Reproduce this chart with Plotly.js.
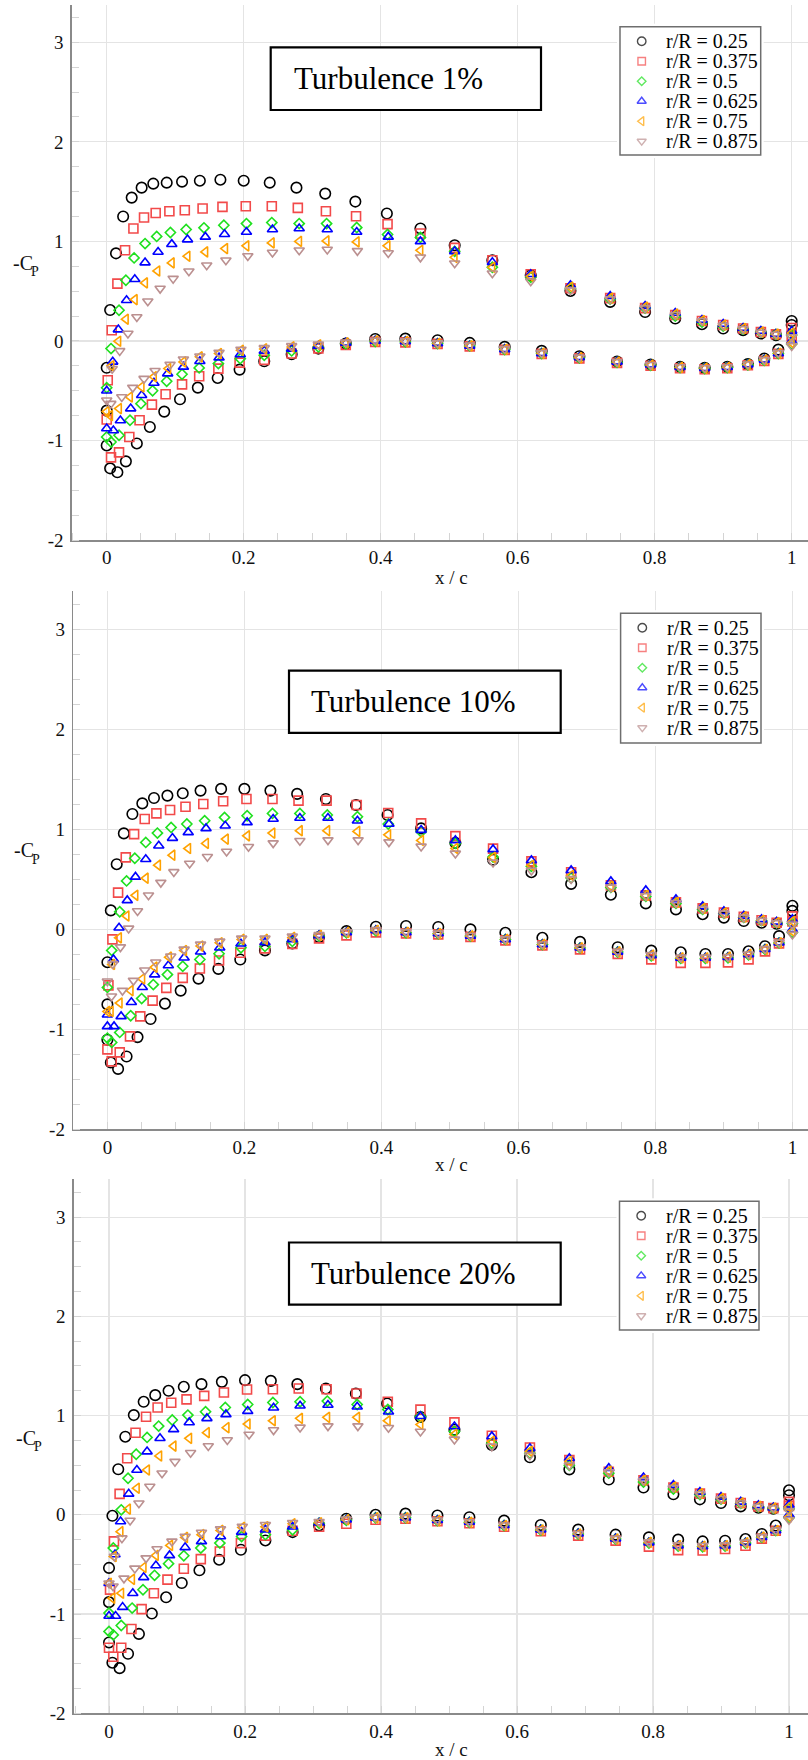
<!DOCTYPE html>
<html><head><meta charset="utf-8">
<script src="https://cdn.plot.ly/plotly-3.0.1.min.js"></script>
<style>html,body{margin:0;padding:0;background:#fff;}#chart{width:808px;height:1760px;}</style>
</head><body><div id="chart"></div>
<script>
// ---------------- DATA ----------------
const rLabels = ['r/R = 0.25','r/R = 0.375','r/R = 0.5','r/R = 0.625','r/R = 0.75','r/R = 0.875'];
const panelTitles = ['Turbulence 1%','Turbulence 10%','Turbulence 20%'];
const xTickVals = [0, 0.2, 0.4, 0.6, 0.8, 1];
const xTickText = ['0', '0.2', '0.4', '0.6', '0.8', '1'];
const yTickVals = [-2, -1, 0, 1, 2, 3];
const yTickText = ['-2', '-1', '0', '1', '2', '3'];

// shared aft tap positions (x/c)
const xUpAft = [0.458, 0.508, 0.563, 0.619, 0.677, 0.735, 0.786, 0.830, 0.869, 0.900, 0.929, 0.955, 0.977, 1.0];
const xLoAft = [0.23, 0.27, 0.309, 0.349, 0.392, 0.436, 0.483, 0.530, 0.581, 0.635, 0.690, 0.745, 0.794, 0.837, 0.873, 0.906, 0.936, 0.960, 0.9805, 1.0];

// per-station forward tap positions (x/c)
const xUp025  = [0.005, 0.0136, 0.024, 0.0365, 0.051, 0.068, 0.0876, 0.110, 0.136, 0.166, 0.200, 0.238, 0.277, 0.319, 0.363, 0.409];
const xLo025  = [0.0, 0.0, 0.0, 0.005, 0.0156, 0.028, 0.044, 0.063, 0.084, 0.107, 0.133, 0.162, 0.194];
const xUp0375 = [0.0073, 0.0156, 0.0268, 0.039, 0.0545, 0.0715, 0.0915, 0.114, 0.140, 0.169, 0.203, 0.241, 0.279, 0.320, 0.364, 0.41];
const xLo0375 = [0.0015, 0.0, 0.0063, 0.018, 0.033, 0.048, 0.066, 0.086, 0.11, 0.135, 0.163, 0.194];
const xUp05   = [0.0063, 0.018, 0.028, 0.040, 0.056, 0.073, 0.093, 0.116, 0.142, 0.171, 0.204, 0.241, 0.281, 0.321, 0.365, 0.41];
const xLo05   = [0.0, 0.0, 0.0063, 0.018, 0.034, 0.05, 0.067, 0.0876, 0.110, 0.135, 0.163, 0.195];
const xUp0625 = [0.0088, 0.017, 0.029, 0.041, 0.056, 0.075, 0.095, 0.118, 0.144, 0.172, 0.204, 0.242, 0.281, 0.322, 0.365, 0.411];
const xLo0625 = [0.0, 0.0, 0.0097, 0.020, 0.035, 0.051, 0.069, 0.089, 0.112, 0.136, 0.164, 0.195];
const xUp075  = [0.007, 0.017, 0.028, 0.041, 0.056, 0.074, 0.095, 0.118, 0.144, 0.173, 0.204, 0.241, 0.281, 0.321, 0.365, 0.410];
const xLo075  = [0.0, 0.005, 0.018, 0.034, 0.051, 0.069, 0.09, 0.112, 0.136, 0.164, 0.196];
const xUp0875 = [0.008, 0.019, 0.031, 0.044, 0.060, 0.078, 0.097, 0.120, 0.146, 0.174, 0.206, 0.242, 0.281, 0.322, 0.366, 0.411];
const xLo0875 = [0.0, 0.006, 0.022, 0.038, 0.0545, 0.0706, 0.0925, 0.112, 0.136, 0.164, 0.196];

// -Cp, Turbulence 1%
const t1Up025 = [0.31, 0.88, 1.25, 1.44, 1.54, 1.58, 1.59, 1.60, 1.61, 1.62, 1.61, 1.59, 1.54, 1.48, 1.40, 1.28, 1.13, 0.962, 0.811, 0.66, 0.503, 0.392, 0.29, 0.225, 0.168, 0.125, 0.108, 0.074, 0.058, 0.20];
const t1Lo025 = [-0.27, -0.70, -1.05, -1.28, -1.32, -1.21, -1.03, -0.864, -0.71, -0.586, -0.469, -0.372, -0.288, -0.204, -0.134, -0.077, -0.027, 0.02, 0.023, 0.007, -0.02, -0.06, -0.10, -0.154, -0.207, -0.237, -0.26, -0.271, -0.26, -0.233, -0.177, -0.087, 0.16];
const t1Up0375 = [0.107, 0.576, 0.911, 1.129, 1.24, 1.286, 1.303, 1.313, 1.33, 1.347, 1.353, 1.353, 1.337, 1.303, 1.253, 1.173, 1.08, 0.935, 0.81, 0.67, 0.53, 0.43, 0.33, 0.26, 0.20, 0.16, 0.125, 0.09, 0.067, 0.13];
const t1Lo0375 = [-0.395, -0.79, -1.17, -1.12, -0.965, -0.797, -0.64, -0.536, -0.436, -0.355, -0.278, -0.218, -0.19, -0.127, -0.075, -0.04, -0.01, -0.015, -0.03, -0.055, -0.09, -0.13, -0.175, -0.22, -0.25, -0.275, -0.285, -0.275, -0.245, -0.20, -0.13, 0.05];
const t1Up05 = [-0.077, 0.308, 0.61, 0.834, 0.978, 1.05, 1.089, 1.119, 1.136, 1.162, 1.179, 1.189, 1.179, 1.179, 1.139, 1.069, 1.04, 0.90, 0.74, 0.64, 0.53, 0.42, 0.33, 0.25, 0.19, 0.15, 0.12, 0.09, 0.066, 0.06];
const t1Lo05 = [-0.47, -0.965, -1.015, -0.948, -0.797, -0.63, -0.50, -0.405, -0.335, -0.271, -0.228, -0.178, -0.144, -0.10, -0.06, -0.03, -0.005, -0.01, -0.027, -0.05, -0.087, -0.127, -0.17, -0.214, -0.244, -0.267, -0.277, -0.267, -0.24, -0.194, -0.127, -0.03];
const t1Up0625 = [-0.21, 0.114, 0.409, 0.62, 0.787, 0.894, 0.972, 1.018, 1.045, 1.072, 1.095, 1.119, 1.129, 1.119, 1.095, 1.045, 1.0, 0.90, 0.79, 0.67, 0.56, 0.45, 0.35, 0.28, 0.21, 0.17, 0.13, 0.10, 0.07, 0.10];
const t1Lo0625 = [-0.50, -0.88, -0.90, -0.80, -0.68, -0.546, -0.422, -0.328, -0.261, -0.204, -0.168, -0.137, -0.10, -0.08, -0.05, -0.02, 0.0, -0.005, -0.025, -0.05, -0.085, -0.125, -0.165, -0.21, -0.24, -0.265, -0.275, -0.265, -0.238, -0.19, -0.125, 0.0];
const t1Up075 = [-0.25, -0.003, 0.218, 0.415, 0.583, 0.703, 0.784, 0.851, 0.894, 0.928, 0.955, 0.985, 1.00, 1.005, 0.995, 0.955, 0.91, 0.84, 0.74, 0.65, 0.54, 0.43, 0.34, 0.27, 0.205, 0.16, 0.125, 0.09, 0.068, 0.08];
const t1Lo075 = [-0.71, -0.75, -0.68, -0.563, -0.462, -0.36, -0.278, -0.211, -0.16, -0.127, -0.094, -0.08, -0.06, -0.04, -0.02, 0.0, -0.005, -0.025, -0.05, -0.085, -0.125, -0.168, -0.212, -0.242, -0.265, -0.275, -0.265, -0.238, -0.192, -0.125, -0.02];
const t1Up0875 = [-0.28, -0.10, 0.074, 0.241, 0.399, 0.526, 0.626, 0.70, 0.76, 0.81, 0.854, 0.888, 0.911, 0.918, 0.905, 0.884, 0.84, 0.78, 0.68, 0.60, 0.51, 0.42, 0.33, 0.26, 0.20, 0.155, 0.12, 0.085, 0.065, 0.04];
const t1Lo0875 = [-0.596, -0.63, -0.563, -0.469, -0.379, -0.30, -0.238, -0.184, -0.154, -0.117, -0.087, -0.07, -0.05, -0.035, -0.015, 0.005, 0.0, -0.022, -0.045, -0.08, -0.12, -0.165, -0.21, -0.24, -0.262, -0.272, -0.262, -0.235, -0.19, -0.12, -0.05];

// -Cp, Turbulence 10%
const t2Up025 = [0.19, 0.652, 0.96, 1.154, 1.26, 1.314, 1.338, 1.361, 1.388, 1.405, 1.405, 1.388, 1.355, 1.304, 1.244, 1.144, 1.01, 0.865, 0.697, 0.572, 0.455, 0.347, 0.26, 0.20, 0.152, 0.118, 0.084, 0.067, 0.057, 0.236];
const t2Lo025 = [-0.328, -0.75, -1.104, -1.331, -1.395, -1.271, -1.077, -0.896, -0.742, -0.612, -0.492, -0.395, -0.301, -0.21, -0.14, -0.077, -0.017, 0.027, 0.034, 0.024, 0.0, -0.034, -0.084, -0.125, -0.178, -0.212, -0.229, -0.246, -0.246, -0.219, -0.168, -0.067, 0.185];
const t2Up0375 = [-0.10, 0.368, 0.72, 0.953, 1.104, 1.16, 1.194, 1.227, 1.254, 1.281, 1.304, 1.304, 1.288, 1.288, 1.244, 1.164, 1.06, 0.933, 0.808, 0.68, 0.572, 0.44, 0.34, 0.27, 0.21, 0.168, 0.125, 0.091, 0.067, 0.13];
const t2Lo0375 = [-0.56, -1.20, -1.32, -1.23, -1.07, -0.87, -0.712, -0.585, -0.485, -0.391, -0.311, -0.234, -0.19, -0.145, -0.09, -0.06, -0.03, -0.04, -0.05, -0.075, -0.11, -0.16, -0.20, -0.245, -0.30, -0.335, -0.335, -0.33, -0.30, -0.22, -0.14, 0.08];
const t2Up05 = [-0.21, 0.177, 0.485, 0.712, 0.87, 0.963, 1.02, 1.054, 1.087, 1.12, 1.137, 1.16, 1.16, 1.144, 1.127, 1.054, 0.976, 0.86, 0.724, 0.63, 0.515, 0.42, 0.33, 0.26, 0.20, 0.16, 0.12, 0.088, 0.065, 0.06];
const t2Lo05 = [-0.58, -1.087, -1.13, -1.03, -0.863, -0.692, -0.552, -0.452, -0.368, -0.301, -0.244, -0.184, -0.17, -0.12, -0.065, -0.035, -0.015, -0.034, -0.044, -0.067, -0.10, -0.152, -0.185, -0.226, -0.265, -0.29, -0.29, -0.283, -0.255, -0.20, -0.135, -0.03];
const t2Up0625 = [-0.30, 0.017, 0.29, 0.525, 0.702, 0.836, 0.913, 0.97, 1.01, 1.037, 1.07, 1.104, 1.114, 1.114, 1.087, 1.054, 0.993, 0.89, 0.80, 0.69, 0.59, 0.48, 0.39, 0.30, 0.23, 0.18, 0.135, 0.10, 0.075, 0.10];
const t2Lo0625 = [-0.853, -0.97, -0.97, -0.87, -0.729, -0.579, -0.452, -0.361, -0.284, -0.224, -0.184, -0.144, -0.13, -0.10, -0.06, -0.03, -0.01, -0.03, -0.04, -0.065, -0.10, -0.15, -0.183, -0.225, -0.26, -0.285, -0.285, -0.278, -0.25, -0.198, -0.133, 0.0];
const t2Up075 = [-0.35, -0.084, 0.134, 0.341, 0.512, 0.642, 0.742, 0.809, 0.86, 0.903, 0.936, 0.963, 0.987, 0.987, 0.98, 0.946, 0.89, 0.81, 0.72, 0.64, 0.54, 0.43, 0.34, 0.27, 0.21, 0.165, 0.125, 0.09, 0.068, 0.08];
const t2Lo075 = [-0.82, -0.82, -0.736, -0.612, -0.495, -0.378, -0.278, -0.211, -0.167, -0.134, -0.10, -0.10, -0.08, -0.06, -0.03, -0.01, -0.03, -0.042, -0.065, -0.10, -0.15, -0.185, -0.225, -0.258, -0.285, -0.285, -0.278, -0.25, -0.2, -0.135, -0.02];
const t2Up0875 = [-0.345, -0.177, 0.01, 0.184, 0.341, 0.468, 0.575, 0.659, 0.726, 0.779, 0.826, 0.863, 0.886, 0.893, 0.893, 0.873, 0.83, 0.76, 0.67, 0.59, 0.505, 0.42, 0.335, 0.265, 0.205, 0.16, 0.12, 0.088, 0.065, 0.05];
const t2Lo0875 = [-0.518, -0.669, -0.612, -0.512, -0.408, -0.328, -0.268, -0.20, -0.15, -0.12, -0.09, -0.09, -0.07, -0.055, -0.025, -0.005, -0.025, -0.04, -0.063, -0.097, -0.148, -0.182, -0.222, -0.255, -0.28, -0.28, -0.275, -0.248, -0.195, -0.13, -0.05];

// -Cp, Turbulence 20%
const t3Up025 = [-0.01, 0.459, 0.787, 1.005, 1.139, 1.206, 1.25, 1.29, 1.317, 1.34, 1.357, 1.35, 1.317, 1.273, 1.223, 1.122, 0.986, 0.858, 0.705, 0.58, 0.458, 0.356, 0.275, 0.207, 0.156, 0.119, 0.085, 0.071, 0.061, 0.247];
const t3Lo025 = [-0.535, -0.88, -1.286, -1.49, -1.545, -1.40, -1.20, -0.995, -0.831, -0.687, -0.559, -0.452, -0.352, -0.258, -0.174, -0.107, -0.04, 0.0, 0.012, -0.007, -0.024, -0.058, -0.102, -0.149, -0.20, -0.227, -0.25, -0.268, -0.261, -0.244, -0.193, -0.108, 0.197];
const t3Up0375 = [-0.268, 0.211, 0.57, 0.827, 0.988, 1.082, 1.129, 1.163, 1.199, 1.233, 1.263, 1.266, 1.273, 1.266, 1.223, 1.139, 1.06, 0.932, 0.797, 0.678, 0.553, 0.434, 0.349, 0.275, 0.214, 0.163, 0.119, 0.085, 0.068, 0.13];
const t3Lo0375 = [-0.754, -1.34, -1.43, -1.34, -1.15, -0.95, -0.79, -0.653, -0.543, -0.446, -0.369, -0.285, -0.21, -0.16, -0.12, -0.09, -0.05, -0.04, -0.065, -0.085, -0.12, -0.165, -0.21, -0.26, -0.32, -0.356, -0.36, -0.345, -0.312, -0.24, -0.16, 0.09];
const t3Up05 = [-0.335, 0.05, 0.369, 0.61, 0.78, 0.894, 0.955, 1.005, 1.039, 1.082, 1.112, 1.132, 1.139, 1.146, 1.112, 1.062, 0.99, 0.84, 0.72, 0.62, 0.50, 0.42, 0.33, 0.26, 0.205, 0.158, 0.115, 0.082, 0.065, 0.06];
const t3Lo05 = [-0.99, -1.175, -1.21, -1.115, -0.94, -0.755, -0.61, -0.492, -0.412, -0.335, -0.285, -0.218, -0.20, -0.15, -0.085, -0.055, -0.03, -0.03, -0.058, -0.075, -0.108, -0.153, -0.193, -0.244, -0.285, -0.315, -0.322, -0.315, -0.285, -0.227, -0.159, -0.03];
const t3Up0625 = [-0.40, -0.067, 0.211, 0.452, 0.637, 0.771, 0.861, 0.931, 0.972, 1.012, 1.045, 1.079, 1.099, 1.106, 1.089, 1.039, 0.993, 0.89, 0.79, 0.67, 0.57, 0.47, 0.376, 0.30, 0.23, 0.18, 0.13, 0.095, 0.072, 0.10];
const t3Lo0625 = [-0.69, -1.02, -1.02, -0.93, -0.79, -0.63, -0.51, -0.409, -0.328, -0.268, -0.218, -0.174, -0.15, -0.12, -0.08, -0.05, -0.03, -0.03, -0.055, -0.073, -0.105, -0.15, -0.19, -0.24, -0.28, -0.31, -0.318, -0.31, -0.282, -0.225, -0.157, 0.0];
const t3Up075 = [-0.42, -0.17, 0.057, 0.268, 0.452, 0.593, 0.693, 0.771, 0.828, 0.878, 0.915, 0.948, 0.972, 0.982, 0.982, 0.948, 0.91, 0.81, 0.74, 0.64, 0.54, 0.44, 0.35, 0.28, 0.215, 0.165, 0.12, 0.085, 0.068, 0.08];
const t3Lo075 = [-0.69, -0.84, -0.79, -0.65, -0.53, -0.409, -0.308, -0.228, -0.20, -0.157, -0.127, -0.12, -0.09, -0.08, -0.05, -0.03, -0.03, -0.058, -0.075, -0.108, -0.153, -0.193, -0.244, -0.278, -0.31, -0.318, -0.31, -0.282, -0.225, -0.158, -0.02];
const t3Up0875 = [-0.42, -0.235, -0.057, 0.117, 0.285, 0.419, 0.536, 0.626, 0.693, 0.754, 0.81, 0.854, 0.881, 0.894, 0.894, 0.878, 0.84, 0.76, 0.69, 0.60, 0.50, 0.43, 0.345, 0.275, 0.21, 0.16, 0.117, 0.083, 0.066, 0.04];
const t3Lo0875 = [-0.69, -0.72, -0.64, -0.54, -0.436, -0.345, -0.268, -0.218, -0.178, -0.144, -0.117, -0.10, -0.08, -0.07, -0.045, -0.025, -0.028, -0.055, -0.072, -0.105, -0.15, -0.19, -0.24, -0.275, -0.305, -0.312, -0.305, -0.278, -0.222, -0.155, -0.05];

// ---------------- STYLE / LAYOUT ----------------
const W = 808, H = 1760;
const FONT = 'Liberation Serif, Times New Roman, Times, serif';
const colors  = ['#000000', '#f24a4a', '#1fe01f', '#0000ff', '#ffa200', '#bb9090'];
const symbols = ['circle-open', 'square-open', 'diamond-open', 'triangle-up-open', 'triangle-left-open', 'triangle-down-open'];
const sizes   = [10.5, 9, 7.8, 9, 9, 9];
const legSizes = [8.5, 7.5, 6.6, 8, 8, 8];

const stationX = [[xUp025, xLo025], [xUp0375, xLo0375], [xUp05, xLo05], [xUp0625, xLo0625], [xUp075, xLo075], [xUp0875, xLo0875]];
const panelCp = [
  [[t1Up025, t1Lo025], [t1Up0375, t1Lo0375], [t1Up05, t1Lo05], [t1Up0625, t1Lo0625], [t1Up075, t1Lo075], [t1Up0875, t1Lo0875]],
  [[t2Up025, t2Lo025], [t2Up0375, t2Lo0375], [t2Up05, t2Lo05], [t2Up0625, t2Lo0625], [t2Up075, t2Lo075], [t2Up0875, t2Lo0875]],
  [[t3Up025, t3Lo025], [t3Up0375, t3Lo0375], [t3Up05, t3Lo05], [t3Up0625, t3Lo0625], [t3Up075, t3Lo075], [t3Up0875, t3Lo0875]]
];

// pixel geometry of each panel
const PANELS = [
  {top: 4.5,    bottom: 540,    left: 72,   x0px: 106.7, xunit: 685,
   box: [270.7, 47.3, 541, 110],     txtX: 291.7, txtY: 78.6,
   leg: [620, 26.7, 760.7, 155],     xlabY: 577,  ylabX: 10.5, ylabY: 263.3},
  {top: 591.4,  bottom: 1129.4, left: 73.3, x0px: 107.4, xunit: 685,
   box: [289, 670.6, 560.7, 732.8],  txtX: 308.7, txtY: 701.9,
   leg: [620.6, 613.2, 761, 743],    xlabY: 1164, ylabX: 11.5, ylabY: 850.5},
  {top: 1179.4, bottom: 1713.3, left: 74,   x0px: 109,   xunit: 680,
   box: [289, 1242.5, 560.7, 1304.7], txtX: 308.7, txtY: 1273.8,
   leg: [619.5, 1201.3, 759, 1330],  xlabY: 1749, ylabX: 13.5, ylabY: 1437.5}
];
const YRANGE = [-2, 3.38];
const px = v => v / W;
const py = v => 1 - v / H;

const traces = [];
const layout = {
  width: W, height: H, margin: {l: 0, r: 0, t: 0, b: 0},
  paper_bgcolor: '#ffffff', plot_bgcolor: '#ffffff', showlegend: false,
  font: {family: FONT, color: '#000'},
  annotations: [], shapes: []
};

// an axis that draws nothing (used for the legend key area)
const blankAxis = extra => Object.assign({
  visible: true, showgrid: false, zeroline: false, showline: false, showticklabels: false,
  ticks: '', fixedrange: true
}, extra);

PANELS.forEach((P, p) => {
  const n = p + 1;
  const xk = n === 1 ? 'xaxis' : 'xaxis' + n, yk = n === 1 ? 'yaxis' : 'yaxis' + n;
  const xr = n === 1 ? 'x' : 'x' + n, yr = n === 1 ? 'y' : 'y' + n;
  layout[xk] = {
    domain: [px(P.left), 1], anchor: yr,
    range: [(P.left - P.x0px) / P.xunit, (W - P.x0px) / P.xunit],
    tickmode: 'array', tickvals: xTickVals, ticktext: xTickText,
    showgrid: true, gridcolor: '#e4e4e4', gridwidth: 1.2, zeroline: false,
    showline: true, linecolor: '#8a8a8a', linewidth: 1.6,
    ticks: '', ticklabelstandoff: 0,
    tickfont: {family: FONT, size: 19, color: '#111'},
    minor: {dtick: 0.05, tick0: 0, ticks: 'inside', ticklen: 7, tickwidth: 1, tickcolor: '#d4d4d4', showgrid: false},
    fixedrange: true
  };
  layout[yk] = {
    domain: [py(P.bottom), py(P.top)], anchor: xr,
    range: YRANGE,
    tickmode: 'array', tickvals: yTickVals, ticktext: yTickText,
    showgrid: true, gridcolor: '#e4e4e4', gridwidth: 1.2, zeroline: false,
    showline: true, linecolor: '#8a8a8a', linewidth: 1.6,
    ticks: '', ticklabelstandoff: 3,
    tickfont: {family: FONT, size: 19, color: '#111'},
    minor: {dtick: 0.25, tick0: 0, ticks: 'inside', ticklen: 7, tickwidth: 1, tickcolor: '#d4d4d4', showgrid: false},
    fixedrange: true
  };

  // data traces
  panelCp[p].forEach((cp, s) => {
    traces.push({
      type: 'scatter', mode: 'markers', name: rLabels[s],
      x: stationX[s][0].concat(xUpAft, stationX[s][1], xLoAft),
      y: cp[0].concat(cp[1]),
      xaxis: xr, yaxis: yr, showlegend: false, hoverinfo: 'x+y+name',
      cliponaxis: false,
      marker: {symbol: symbols[s], size: sizes[s], color: colors[s], line: {width: 1.6, color: colors[s]}}
    });
  });

  // legend box as a small subplot
  const L = P.leg, lw = L[2] - L[0], lh = L[3] - L[1], pad = 3;
  const lxk = 'xaxis' + (n + 3), lyk = 'yaxis' + (n + 3), lxr = 'x' + (n + 3), lyr = 'y' + (n + 3);
  layout[lxk] = blankAxis({domain: [px(L[0] - pad), px(L[2] + pad)], range: [-pad, lw + pad], anchor: lyr});
  layout[lyk] = blankAxis({domain: [py(L[3] + pad), py(L[1] - pad)], range: [lh + pad, -pad], anchor: lxr});
  layout.shapes.push({type: 'rect', xref: lxr, yref: lyr, x0: 0, x1: lw, y0: 0, y1: lh,
    fillcolor: '#ffffff', line: {color: '#6e6e6e', width: 1.5}, layer: 'between'});
  const rowY = rLabels.map((_, i) => 14.5 + i * 20);
  traces.push({
    type: 'scatter', mode: 'markers', x: rLabels.map(() => 21.7), y: rowY,
    xaxis: lxr, yaxis: lyr, showlegend: false, hoverinfo: 'skip',
    marker: {symbol: symbols, size: legSizes, color: colors, line: {width: 1.4, color: colors}}
  });
  rLabels.forEach((lab, i) => {
    layout.annotations.push({xref: lxr, yref: lyr, x: 44, y: rowY[i], xanchor: 'left', yanchor: 'middle',
      text: lab, showarrow: false, font: {family: FONT, size: 20, color: '#000'}});
  });

  // title box
  const B = P.box;
  layout.shapes.push({type: 'rect', xref: 'paper', yref: 'paper', x0: px(B[0]), x1: px(B[2]), y0: py(B[3]), y1: py(B[1]),
    fillcolor: '#ffffff', line: {color: '#000', width: 2.2}, layer: 'above'});
  layout.annotations.push({xref: 'paper', yref: 'paper', x: px(P.txtX), y: py(P.txtY), xanchor: 'left', yanchor: 'middle',
    text: panelTitles[p], showarrow: false, font: {family: FONT, size: 31, color: '#000'}});

  // axis titles: "x / c" and "-C" with subscript "P"
  layout.annotations.push({xref: 'paper', yref: 'paper', x: px(451), y: py(P.xlabY), xanchor: 'center', yanchor: 'middle',
    text: 'x / c', showarrow: false, font: {family: FONT, size: 19, color: '#111'}});
  layout.annotations.push({xref: 'paper', yref: 'paper', x: px(P.ylabX), y: py(P.ylabY), xanchor: 'left', yanchor: 'middle',
    text: '-C', showarrow: false, font: {family: FONT, size: 20, color: '#111'}});
  layout.annotations.push({xref: 'paper', yref: 'paper', x: px(P.ylabX + 18.5), y: py(P.ylabY + 8.5), xanchor: 'left', yanchor: 'middle',
    text: 'P', showarrow: false, font: {family: FONT, size: 14, color: '#111'}});
});

Plotly.newPlot('chart', traces, layout, {displayModeBar: false, staticPlot: true});
</script></body></html>
